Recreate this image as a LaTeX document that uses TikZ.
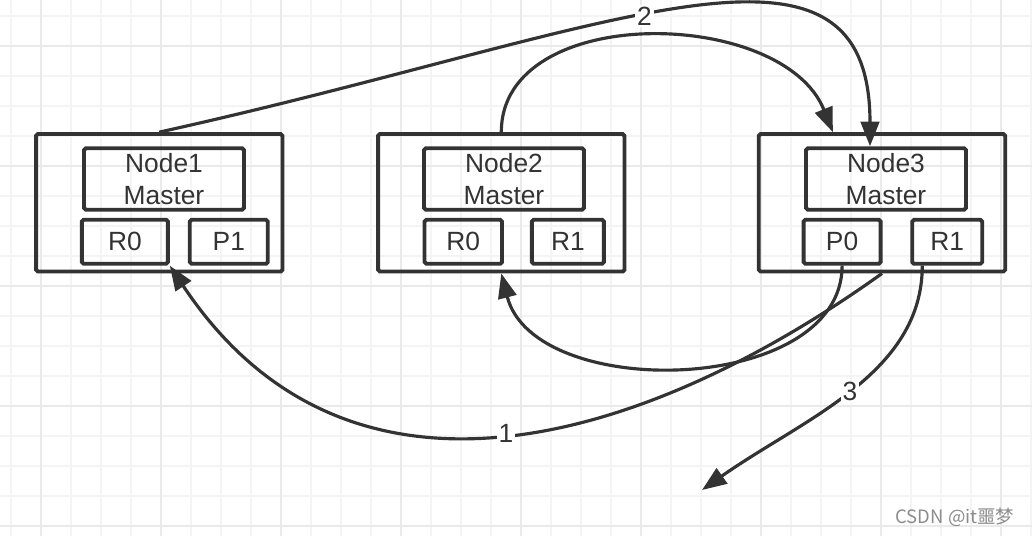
\documentclass[tikz,border=0pt]{standalone}
\usepackage{fontspec}
\setmainfont{Liberation Sans}
\newfontfamily\cjk{Noto Sans CJK SC}
\usetikzlibrary{arrows.meta,calc}
\definecolor{ink}{HTML}{333333}
\definecolor{gridminor}{HTML}{F4F4F4}
\definecolor{gridmajor}{HTML}{EAEAEA}
\definecolor{wmgray}{HTML}{8C8C8C}

\begin{document}
\begin{tikzpicture}[x=0.02cm, y=-0.02cm,
    nodebox/.style={rectangle, draw=ink, line width=2.2pt, rounded corners=1pt, inner sep=0pt, minimum width=4.93cm, minimum height=2.75cm},
    masterbox/.style={rectangle, draw=ink, line width=2.2pt, rounded corners=1pt, inner sep=0pt, minimum width=3.2cm, minimum height=1.23cm, align=center, text=ink, font=\fontsize{15}{18}\selectfont},
    shardbox/.style={rectangle, draw=ink, line width=2.2pt, rounded corners=1pt, inner sep=0pt, minimum height=0.88cm, text=ink, font=\fontsize{15}{18}\selectfont},
    link/.style={draw=ink, line width=1.8pt, -{Triangle[length=14pt,width=10.5pt]}},
    tag/.style={fill=white, inner sep=1pt, text=ink, font=\fontsize{15}{18}\selectfont}]
    \fill[white] (0,0) rectangle (1032,536);
    \useasboundingbox (0,0) rectangle (1032,536);
    % grid paper
    \foreach \gx in {11,41,...,1031} \draw[gridminor, line width=1pt] (\gx,0) -- (\gx,536);
    \foreach \gy in {16,46,...,526} \draw[gridminor, line width=1pt] (0,\gy) -- (1032,\gy);
    \foreach \gx in {41,161,...,1001} \draw[gridmajor, line width=1pt] (\gx,0) -- (\gx,536);
    \foreach \gy in {46,166,...,526} \draw[gridmajor, line width=1pt] (0,\gy) -- (1032,\gy);

    % Node1
    \node [nodebox] (node1) at (159.3, 202.8) {};
    \node [masterbox] (node1master) at (164, 179) {Node1\\Master};
    \node [shardbox, minimum width=1.72cm] (node1r0) at (124.9, 241.8) {R0};
    \node [shardbox, minimum width=1.56cm] (node1p1) at (228.8, 241.8) {P1};
    % Node2
    \node [nodebox] (node2) at (501.3, 202.8) {};
    \node [masterbox] (node2master) at (504, 179) {Node2\\Master};
    \node [shardbox, minimum width=1.55cm] (node2r0) at (463.3, 241.8) {R0};
    \node [shardbox, minimum width=1.44cm] (node2r1) at (567.9, 241.8) {R1};
    % Node3
    \node [nodebox] (node3) at (882, 202.8) {};
    \node [masterbox] (node3master) at (886, 179) {Node3\\Master};
    \node [shardbox, minimum width=1.54cm] (node3p0) at (842.1, 241.8) {P0};
    \node [shardbox, minimum width=1.40cm] (node3r1) at (947.2, 241.8) {R1};

    \coordinate (lost) at (702, 490);

    % links
    \draw[link] (node3.south) .. controls +(-233,167) and +(180,271) .. (node1r0.south east) node [tag, pos=0.5] {1};
    \draw[link] (node1.north) .. controls +(448,-99) and +(0,-245) .. ($(node3master.north)+(-16,0)$) node [tag, pos=0.45] {2};
    \draw[link] (node2.north) .. controls +(0,-130) and +(-50,-125) .. ($(node3.north west)+(76,0)$);
    \draw[link] (node3p0.south) .. controls +(0,130) and +(33,129) .. (node2.south);
    \draw[link] ($(node3r1.south west)+(12,0)$) .. controls +(0,108) and +(101,-71) .. (lost) node [tag, pos=0.5] {3};

    \node [text=wmgray, font=\cjk\fontsize{10.5}{12}\selectfont] (mark) at (955, 517) {CSDN @it噩梦};
\end{tikzpicture}
\end{document}
